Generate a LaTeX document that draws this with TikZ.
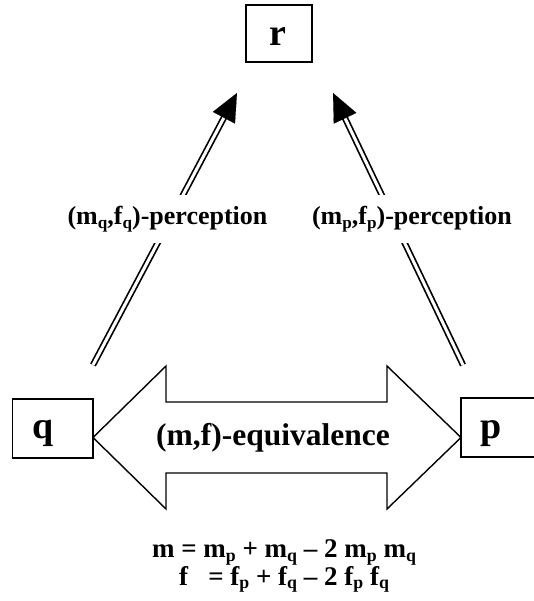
\documentclass[tikz,border=0pt]{standalone}
\usepackage{fontspec}
\setmainfont{Liberation Serif}
\usetikzlibrary{arrows.meta,calc}
\newcommand{\lowsub}[1]{\raisebox{-0.13em}{\scalebox{0.66}{#1}}}
\begin{document}
\begin{tikzpicture}[x=1pt,y=-1pt,
  box/.style={draw,line width=1.4pt,inner sep=0pt},
  lettr/.style={font=\fontsize{38}{44}\selectfont\bfseries,inner sep=0pt},
  lbl/.style={font=\fontsize{26}{30}\selectfont\bfseries,fill=white,inner xsep=0pt,minimum height=48pt},
  perc/.style={double,double distance=3pt,line width=1.7pt},
  tip/.style={line width=0.1pt,-{Triangle[length=28pt,width=25pt]}},
  bigarrow/.style={draw,line width=1.4pt,line join=miter,fill=white},
  eqn/.style={font=\fontsize{27}{27.5}\selectfont\bfseries,align=center,inner sep=0pt}
  ]
\useasboundingbox (0,0) rectangle (534,601);
\begin{scope}
\clip (0,0) rectangle (534,601);
% boxes
\node[box,minimum width=66pt,minimum height=57pt] (r) at (279,33.5) {};
\node[box,minimum width=80.4pt,minimum height=59pt] (q) at (52.8,428.5) {};
\node[box,minimum width=79pt,minimum height=59pt] (p) at (500.5,427.5) {};
\node[lettr,anchor=base] (rt) at (278,46) {r};
\node[lettr,anchor=base] (qt) at (43.5,438) {q};
\node[lettr,anchor=base] (pt) at (491,438) {p};
% big double arrow
\path[bigarrow] (93,437.5) -- (166,366) -- (166,402) -- (387,402) -- (387,366)
  -- (461,437.5) -- (387,509) -- (387,473) -- (166,473) -- (166,509) -- cycle;
\node[font=\fontsize{31.5}{36}\selectfont\bfseries,inner sep=0pt] (eq) at (273,438) {(m,f)-equivalence};
% perception arrows
\coordinate (qa) at (93,365);
\coordinate (qr) at (237,93);
\coordinate (pa) at (463,365);
\coordinate (pr) at (333,93);
\draw[perc,shorten >=20pt] (qa) -- (qr);
\draw[tip] ($(qr)!28pt!(qa)$) -- (qr);
\draw[perc,shorten >=20pt] (pa) -- (pr);
\draw[tip] ($(pr)!28pt!(pa)$) -- (pr);
\node[lbl] (lq) at (167.5,219) {(m\lowsub{q},f\lowsub{q})-perception};
\node[lbl] (lp) at (412,219) {(m\lowsub{p},f\lowsub{p})-perception};
% equations
\node[eqn] (form) at (284,566) {m = m\lowsub{p} + m\lowsub{q} -- 2 m\lowsub{p} m\lowsub{q}\\
f\hspace{0.75em}= f\lowsub{p} + f\lowsub{q} -- 2 f\lowsub{p} f\lowsub{q}};
\end{scope}
\end{tikzpicture}
\end{document}
